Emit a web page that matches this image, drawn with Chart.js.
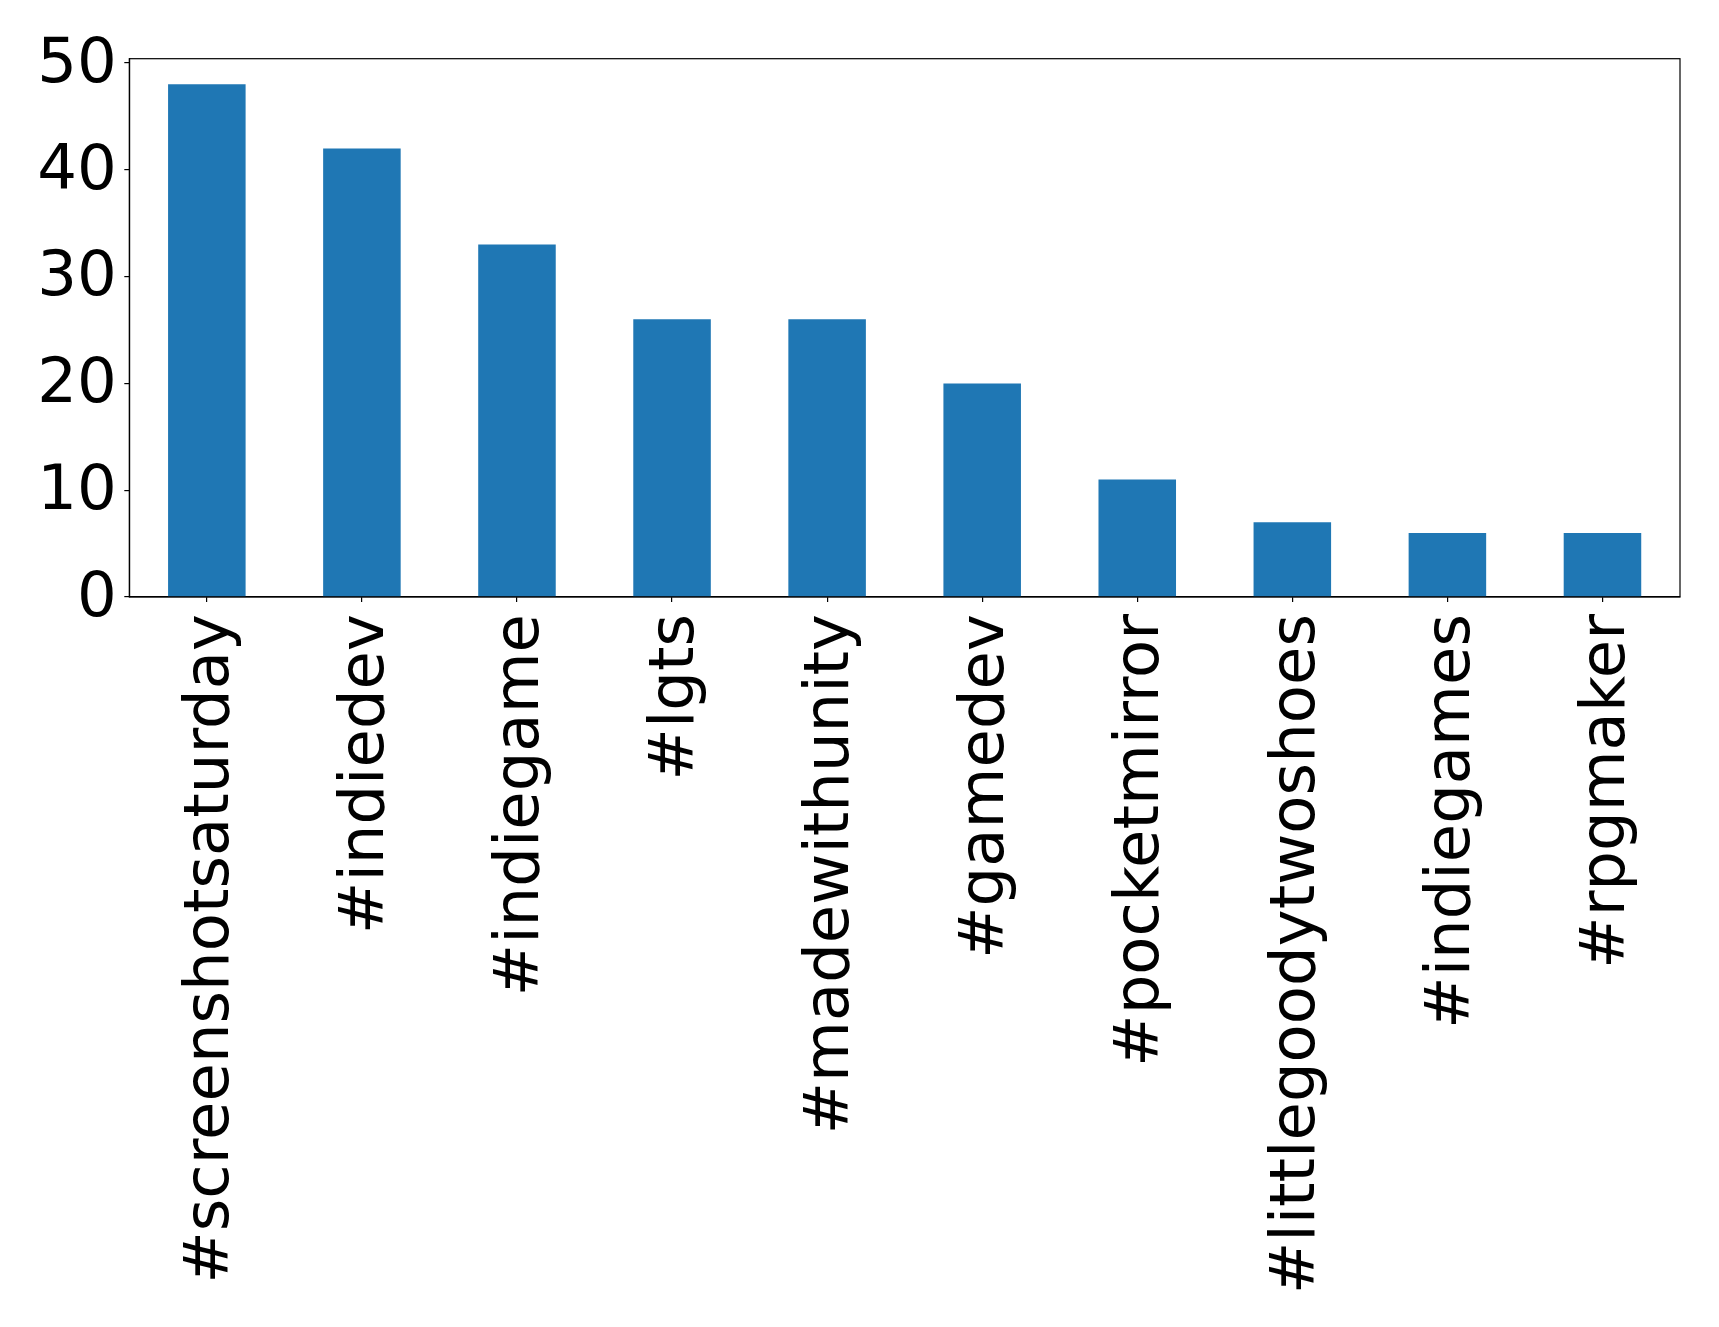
<!DOCTYPE html>
<html>
<head>
<meta charset="utf-8">
<script src="https://cdn.jsdelivr.net/npm/chart.js@4"></script>
<style>
  html, body { margin: 0; padding: 0; background: #ffffff; }
  #wrap { width: 1719px; height: 1327px; }
</style>
</head>
<body>
<div id="wrap"><canvas id="c" width="1719" height="1327"></canvas></div>
<script>
const categories = ["#screenshotsaturday", "#indiedev", "#indiegame", "#lgts", "#madewithunity",
                    "#gamedev", "#pocketmirror", "#littlegoodytwoshoes", "#indiegames", "#rpgmaker"];
const counts = [48, 42, 33, 26, 26, 20, 11, 7, 6, 6];
const yTicks = [0, 10, 20, 30, 40, 50];

const FONT = "'DejaVu Sans', sans-serif";

const frame = {
  id: 'frame',
  afterDatasetsDraw(chart) {
    const a = chart.chartArea, ctx = chart.ctx;
    ctx.save();
    ctx.strokeStyle = '#000';
    ctx.lineWidth = 1.2;
    ctx.strokeRect(a.left, a.top, a.right - a.left, a.bottom - a.top);
    ctx.restore();
  }
};

new Chart(document.getElementById('c'), {
  type: 'bar',
  data: {
    labels: categories,
    datasets: [{
      data: counts,
      backgroundColor: '#1f77b4',
      borderWidth: 0,
      barPercentage: 0.5,
      categoryPercentage: 1.0
    }]
  },
  options: {
    responsive: false,
    devicePixelRatio: 1,
    animation: false,
    layout: { padding: { left: 0, top: 58.7, right: 39, bottom: 0 } },
    plugins: { legend: { display: false }, tooltip: { enabled: false } },
    scales: {
      x: {
        offset: true,
        grid: { display: true, offset: false, drawOnChartArea: false, drawTicks: true, tickLength: 5, color: '#000', lineWidth: 1.2 },
        border: { display: true, color: '#000', width: 1.2 },
        ticks: {
          color: '#000', font: { family: FONT, size: 62.5 },
          minRotation: 90, maxRotation: 90, padding: 12, autoSkip: false, labelOffset: 5
        },
        afterFit(s) { s.height = 1327 - 597; }
      },
      y: {
        min: 0, max: 50.4,
        grid: { display: true, drawOnChartArea: false, drawTicks: true, tickLength: 5, color: '#000', lineWidth: 1.2 },
        border: { display: true, color: '#000', width: 1.2 },
        ticks: { color: '#000', font: { family: FONT, size: 62.5 }, padding: 7.5, stepSize: 10, labelOffset: 2.5 },
        afterBuildTicks(s) { s.ticks = yTicks.map(v => ({ value: v })); },
        afterFit(s) { s.width = 129.3; }
      }
    }
  },
  plugins: [frame]
});
</script>
</body>
</html>
